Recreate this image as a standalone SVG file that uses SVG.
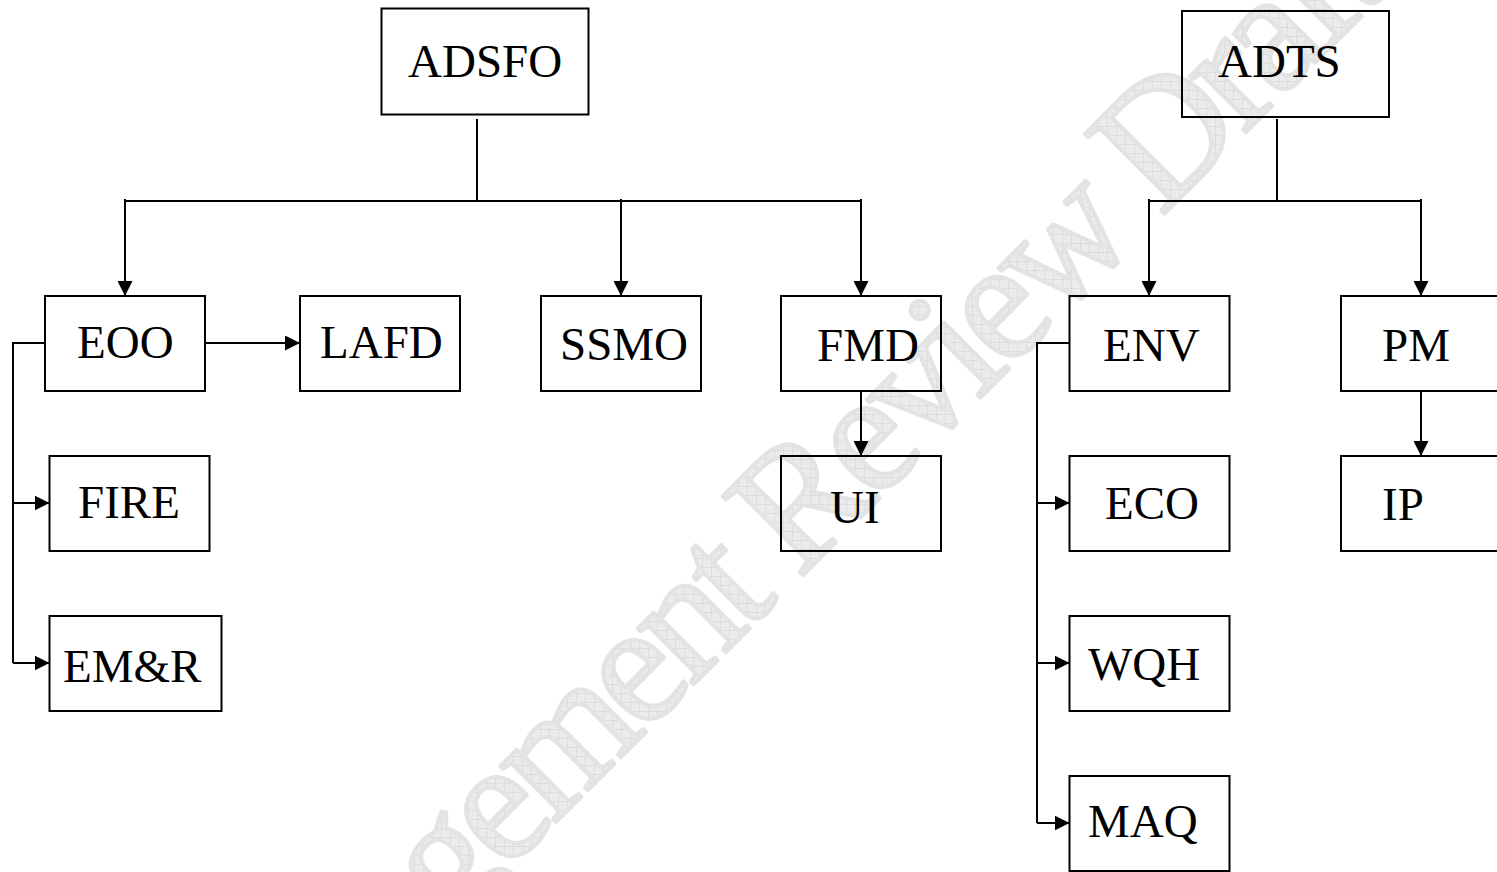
<svg xmlns="http://www.w3.org/2000/svg" width="1497" height="872" viewBox="0 0 1497 872">
<style>
.box{fill:none;stroke:#000;stroke-width:2}
.lbl{font-family:"Liberation Serif","Times New Roman",serif;font-size:47px;fill:#000}
.wire{fill:none;stroke:#000;stroke-width:2}
.arr{marker-end:url(#ah)}
.wm{font-family:"Liberation Serif","Times New Roman",serif;font-size:172px;letter-spacing:-8px;fill:url(#hatch);stroke:#e3e3e3;stroke-width:4;stroke-linejoin:round}
</style>
<defs>
<marker id="ah" markerUnits="userSpaceOnUse" markerWidth="15" markerHeight="15" viewBox="0 0 15 15" refX="15" refY="7.5" orient="auto">
<path d="M0,0 L15,7.5 L0,15 z" fill="#000"/>
</marker>
<pattern id="hatch" width="9" height="9" patternUnits="userSpaceOnUse" patternTransform="rotate(-45)">
<rect width="9" height="9" fill="#ebebeb"/>
<path d="M0 0H9M0 0V9" stroke="#d0d0d0" stroke-width="1"/>
</pattern>
</defs>
<rect width="1497" height="872" fill="#fff"/>
<g id="watermark">
<text class="wm" transform="translate(450,928) rotate(-45)">gement Review Draft</text>
</g>
<g id="connectors">
<path class="wire" d="M477 119V201M125 201H861"/>
<path class="wire arr" d="M125 199V296"/>
<path class="wire arr" d="M621 199V296"/>
<path class="wire arr" d="M861 199V296"/>
<path class="wire arr" d="M205 343H300"/>
<path class="wire" d="M45 343H13V663"/>
<path class="wire arr" d="M13 503H49.5"/>
<path class="wire arr" d="M13 663H49.5"/>
<path class="wire arr" d="M861 391V456"/>
<path class="wire" d="M1277 119V201M1149 201H1421"/>
<path class="wire arr" d="M1149 199V296"/>
<path class="wire arr" d="M1421 199V296"/>
<path class="wire" d="M1069.5 343H1037V823"/>
<path class="wire arr" d="M1037 503H1069.5"/>
<path class="wire arr" d="M1037 663H1069.5"/>
<path class="wire arr" d="M1037 823H1069.5"/>
<path class="wire arr" d="M1421 391V456"/>
</g>
<g id="ADSFO"><rect class="box" x="381.5" y="8.5" width="207" height="106"/><text class="lbl" x="408" y="77">ADSFO</text></g>
<g id="ADTS"><rect class="box" x="1182" y="11" width="207" height="106"/><text class="lbl" x="1218" y="77">ADTS</text></g>
<g id="EOO"><rect class="box" x="45" y="296" width="160" height="95"/><text class="lbl" x="77" y="358">EOO</text></g>
<g id="LAFD"><rect class="box" x="300" y="296" width="160" height="95"/><text class="lbl" x="320" y="358">LAFD</text></g>
<g id="SSMO"><rect class="box" x="541" y="296" width="160" height="95"/><text class="lbl" x="560" y="360">SSMO</text></g>
<g id="FMD"><rect class="box" x="781" y="296" width="160" height="95"/><text class="lbl" x="817" y="361">FMD</text></g>
<g id="UI"><rect class="box" x="781" y="456" width="160" height="95"/><text class="lbl" x="830" y="523">UI</text></g>
<g id="FIRE"><rect class="box" x="49.5" y="456" width="160" height="95"/><text class="lbl" x="78" y="518">FIRE</text></g>
<g id="EMR"><rect class="box" x="49.5" y="616" width="172" height="95"/><text class="lbl" x="63" y="682">EM&amp;R</text></g>
<g id="ENV"><rect class="box" x="1069.5" y="296" width="160" height="95"/><text class="lbl" x="1103" y="361">ENV</text></g>
<g id="ECO"><rect class="box" x="1069.5" y="456" width="160" height="95"/><text class="lbl" x="1105" y="519">ECO</text></g>
<g id="WQH"><rect class="box" x="1069.5" y="616" width="160" height="95"/><text class="lbl" x="1088" y="680">WQH</text></g>
<g id="MAQ"><rect class="box" x="1069.5" y="776" width="160" height="95"/><text class="lbl" x="1088" y="837">MAQ</text></g>
<g id="PM"><rect class="box" x="1341" y="296" width="160" height="95"/><text class="lbl" x="1382" y="361">PM</text></g>
<g id="IP"><rect class="box" x="1341" y="456" width="160" height="95"/><text class="lbl" x="1382" y="520">IP</text></g>
</svg>
